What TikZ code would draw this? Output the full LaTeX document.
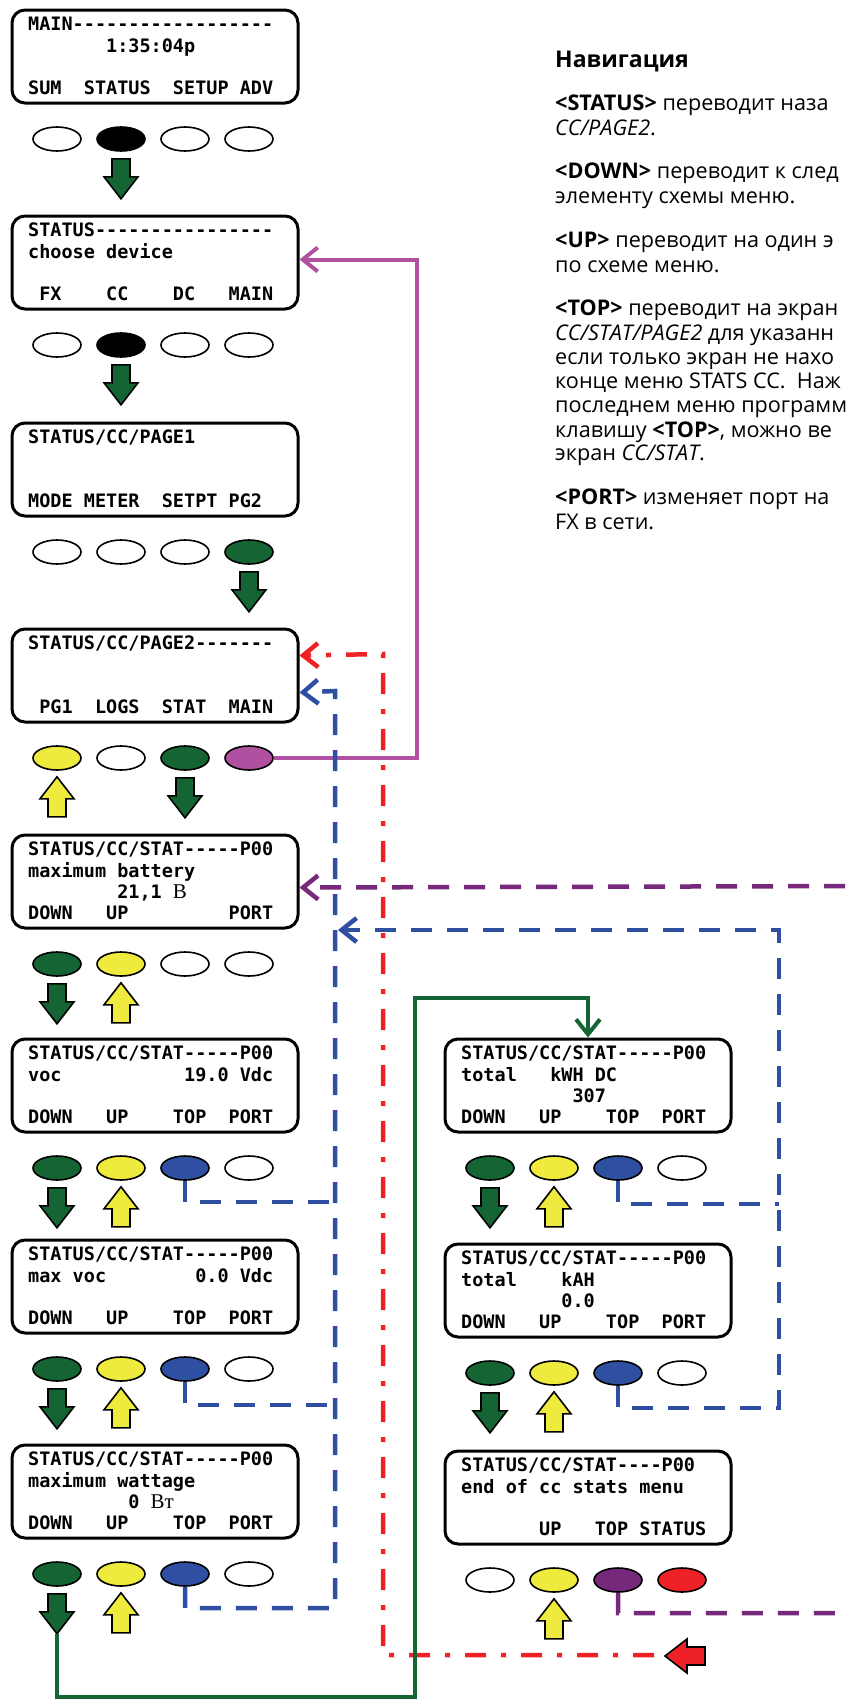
\documentclass[tikz,border=0pt]{standalone}
\usepackage{fontspec}
\setmainfont{Open Sans}
\newfontfamily\lcdfont{DejaVu Sans Mono}[Ligatures=TeXOff]
\newfontfamily\unitfont{Liberation Serif}[Ligatures=TeXOff]
\usetikzlibrary{arrows.meta, calc, shapes.geometric}
\definecolor{dgreen}{RGB}{21,101,52}
\definecolor{lyellow}{RGB}{238,234,62}
\definecolor{dblue}{RGB}{46,79,162}
\definecolor{mag}{RGB}{176,80,160}
\definecolor{dpurple}{RGB}{118,40,122}
\definecolor{lred}{RGB}{238,34,38}
\tikzset{
  lcd/.style={draw,line width=3pt,rounded corners=13pt,anchor=north west,
    minimum width=286pt,minimum height=93pt,inner sep=0pt},
  lcdtxt/.style={anchor=base west,inner sep=0pt,
    font=\lcdfont\bfseries\fontsize{18.5pt}{20pt}\selectfont},
  btn/.style={draw,ellipse,line width=1.6pt,minimum width=48pt,
    minimum height=24pt,inner sep=0pt},
  navtxt/.style={anchor=base west,inner sep=0pt,font=\fontsize{21.6pt}{24pt}\selectfont},
  link/.style={line width=4pt,-{Straight Barb[length=15pt,width=24pt]}},
  bluelink/.style={link,dblue,line width=4.5pt,dash pattern=on 21pt off 15pt},
  pics/blkarr/.style={code={
    \filldraw[fill=#1,line width=1.6pt,line join=miter]
      (-9,0) -- (9,0) -- (9,18) -- (17,18) -- (0,40) -- (-17,18) -- (-9,18) -- cycle;}}
}
\begin{document}
\begin{tikzpicture}[x=1pt,y=-1pt]
\useasboundingbox (0,0) rectangle (847,1700);
\clip (0,0) rectangle (847,1700);
% screens and keys
\foreach \n/\x/\y/\ca/\cb/\cc/\cd in {
    b1/9/7/white/black/white/white,
    b2/9/213/white/black/white/white,
    b3/9/420/white/white/white/dgreen,
    b4/9/626/lyellow/white/dgreen/mag,
    b5/9/832/dgreen/lyellow/white/white,
    b6/9/1036/dgreen/lyellow/dblue/white,
    b7/9/1237/dgreen/lyellow/dblue/white,
    b8/9/1442/dgreen/lyellow/dblue/white,
    r1/442/1036/dgreen/lyellow/dblue/white,
    r2/442/1241/dgreen/lyellow/dblue/white,
    r3/442/1448/white/lyellow/dpurple/lred}{
    \node[lcd] (\n) at (\x+1.5,\y+1.5) {};
    \node[btn,fill=\ca] (\n-1) at (\x+48,\y+132) {};
    \node[btn,fill=\cb] (\n-2) at (\x+112,\y+132) {};
    \node[btn,fill=\cc] (\n-3) at (\x+176,\y+132) {};
    \node[btn,fill=\cd] (\n-4) at (\x+240,\y+132) {};
}
\foreach \n/\r/\t in {
    b1/1/{MAIN------------------},
    b1/2/{~~~~~~~1:35:04p},
    b1/4/{SUM~~STATUS~~SETUP~ADV},
    b2/1/{STATUS----------------},
    b2/2/{choose~device},
    b2/4/{~FX~~~~CC~~~~DC~~~MAIN},
    b3/1/{STATUS/CC/PAGE1},
    b3/4/{MODE~METER~~SETPT~PG2},
    b4/1/{STATUS/CC/PAGE2-------},
    b4/4/{~PG1~~LOGS~~STAT~~MAIN},
    b5/1/{STATUS/CC/STAT-----P00},
    b5/2/{maximum~battery},
    b5/3/{~~~~~~~~21,1~{\unitfont\mdseries\fontsize{21pt}{20pt}\selectfont В}},
    b5/4/{DOWN~~~UP~~~~~~~~~PORT},
    b6/1/{STATUS/CC/STAT-----P00},
    b6/2/{voc~~~~~~~~~~~19.0~Vdc},
    b6/4/{DOWN~~~UP~~~~TOP~~PORT},
    b7/1/{STATUS/CC/STAT-----P00},
    b7/2/{max~voc~~~~~~~~0.0~Vdc},
    b7/4/{DOWN~~~UP~~~~TOP~~PORT},
    b8/1/{STATUS/CC/STAT-----P00},
    b8/2/{maximum~wattage},
    b8/3/{~~~~~~~~~0~{\unitfont\mdseries\fontsize{21pt}{20pt}\selectfont Вт}},
    b8/4/{DOWN~~~UP~~~~TOP~~PORT},
    r1/1/{STATUS/CC/STAT-----P00},
    r1/2/{total~~~kWH~DC},
    r1/3/{~~~~~~~~~~307},
    r1/4/{DOWN~~~UP~~~~TOP~~PORT},
    r2/1/{STATUS/CC/STAT-----P00},
    r2/2/{total~~~~kAH},
    r2/3/{~~~~~~~~~0.0},
    r2/4/{DOWN~~~UP~~~~TOP~~PORT},
    r3/1/{STATUS/CC/STAT----P00},
    r3/2/{end~of~cc~stats~menu},
    r3/4/{~~~~~~~UP~~~TOP~STATUS}}
    \node[lcdtxt] (\n-t\r) at ($(\n.north west)+(17.5,0.9+21.3*\r)$) {\t};
% key arrows
\foreach \n/\j in {b1/2,b2/2,b3/4,b4/3,b5/1,b6/1,b7/1,b8/1,r1/1,r2/1}
    \pic at ([yshift=-7pt]\n-\j.south) {blkarr=dgreen};
\foreach \n in {b4-1,b5-2,b6-2,b7-2,b8-2,r1-2,r2-2,r3-2}
    \pic[rotate=180] at ([yshift=-46pt]\n.south) {blkarr=lyellow};
\pic[rotate=-90] at (705,1656) {blkarr=lred};
% links
\draw[link,mag] (b4-4.east) -- ++(143,0) |- ([yshift=3pt]b2.east);
\coordinate (redend) at (654,1655);
\draw[link,lred,line width=4.5pt,dash pattern=on 21pt off 15pt on 5pt off 15pt]
    (redend) -| (383,654) -- ([yshift=-28pt]b4.north east);
\draw[bluelink] (b8-3.south) |- (335,1608) -- (335,691) -- ([yshift=-65pt]b4.north east);
\draw[bluelink,-] (b6-3.south) |- (335,1202);
\draw[bluelink,-] (b7-3.south) |- (335,1405);
\coordinate (bj) at (338,930);
\draw[bluelink] (r2-3.south) |- (779,1408) -- (779,930) -- (bj);
\draw[bluelink,-] (r1-3.south) |- (779,1204);
\draw[link,dpurple,line width=4.5pt,dash pattern=on 21pt off 15pt]
    (r3-3.south) |- (880,1613) -- (880,886) -- ([yshift=-54pt]b5.north east);
\coordinate (g0) at ([yshift=-47pt]b8-1.south);
\draw[link,dgreen] (g0) |- (415,1697) -- (415,998) -| (r1.north);
% navigation text
\node[anchor=base west,inner sep=0pt,font=\bfseries\fontsize{23pt}{26pt}\selectfont]
    (navhead) at (555,67) {Навигация};
\foreach \y/\t [count=\i] in {
    110/{\textbf{<STATUS>} переводит наза},
    135/{\textit{CC/PAGE2}.},
    178/{\textbf{<DOWN>} переводит к след},
    203/{элементу схемы меню.},
    247/{\textbf{<UP>} переводит на один э},
    272/{по схеме меню.},
    315/{\textbf{<TOP>} переводит на экран},
    340/{\textit{CC/STAT/PAGE2} для указанн},
    364/{если только экран не нахо},
    388/{конце меню STATS CC.\ \ Наж},
    412/{последнем меню программ},
    437/{клавишу \textbf{<TOP>}, можно ве},
    460/{экран \textit{CC/STAT}.},
    504/{\textbf{<PORT>} изменяет порт на},
    529/{FX в сети.}}
    \node[navtxt] (nav\i) at (555,\y) {\t};
\end{tikzpicture}
\end{document}
